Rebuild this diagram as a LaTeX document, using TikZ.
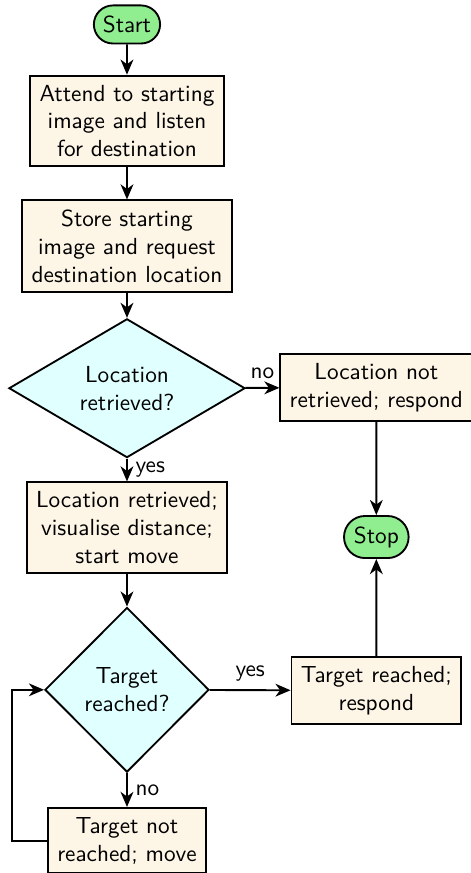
\documentclass[tikz,border=0pt]{standalone}
\usetikzlibrary{shapes.geometric,shapes.misc,arrows.meta}
\definecolor{termgreen}{RGB}{144,238,144}
\definecolor{boxcream}{RGB}{253,245,230}
\definecolor{decicyan}{RGB}{224,255,255}
\begin{document}
\begin{tikzpicture}[>={Stealth[length=6.5pt,width=5.5pt,inset=2pt]},x=1.0cm,y=1.0cm,font=\sffamily,thick,
	term/.style={rounded rectangle,draw,fill=termgreen,inner xsep=3pt,inner ysep=4.5pt},
	proc/.style={rectangle,draw,fill=boxcream,align=center,inner xsep=4pt,inner ysep=4pt},
	decide/.style={diamond,draw,fill=decicyan,align=center,inner sep=0pt},
	line/.style={->}]
		\useasboundingbox (0,0) rectangle (7.12,-13.2);
		\node[term] (start) at (1.92,-0.37) {Start};
		\node[proc] (attend) at (1.92,-1.83) {Attend to starting\\image and listen\\for destination};
		\node[proc] (store) at (1.92,-3.72) {Store starting\\image and request\\destination location};
		\node[decide,minimum width=3.57cm,minimum height=1.77cm] (locq) at (1.92,-5.87) {Location\\retrieved?};
		\node[proc] (notret) at (5.69,-5.86) {Location not\\retrieved; respond};
		\node[proc] (locret) at (1.92,-7.98) {Location retrieved;\\visualise distance;\\start move};
		\node[term,minimum height=0.56cm] (stop) at (5.69,-8.12) {Stop};
		\node[decide,minimum width=2.48cm,minimum height=2.49cm] (targq) at (1.92,-10.43) {Target\\reached?};
		\node[proc] (reached) at (5.69,-10.44) {Target reached;\\respond};
		\node[proc] (notreached) at (1.92,-12.71) {Target not\\reached; move};
		\coordinate (loop) at (0.18,-12.71);
		% connectors
		\draw[line] (start) -- (attend);
		\draw[line] (attend) -- (store);
		\draw[line] (store) -- (locq);
		\draw[line] (locq) -- node[above] {no} (notret);
		\draw[line] (locq) -- node[right] {yes} (locret);
		\draw[line] (notret) -- (stop);
		\draw[line] (locret) -- (targq);
		\draw[line] (targq) -- node[above] {yes} (reached);
		\draw[line] (reached) -- (stop);
		\draw[line] (targq) -- node[right] {no} (notreached);
		\draw[line] (notreached.west) -- (loop) |- (targq.west);
\end{tikzpicture}
\end{document}
